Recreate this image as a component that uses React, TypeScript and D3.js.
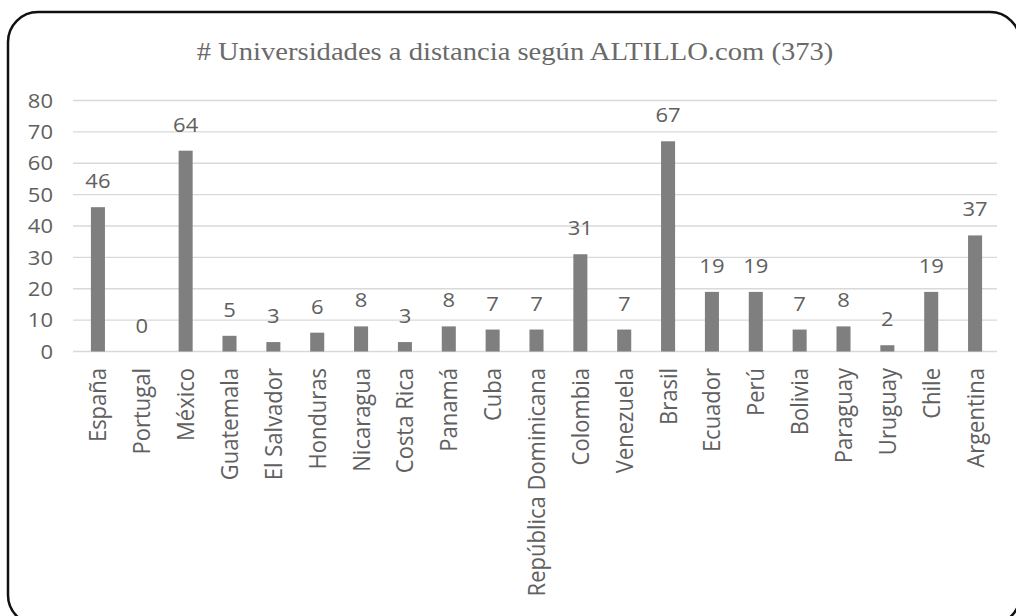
import React from "react";
import * as d3 from "d3";

const categories = ["España","Portugal","México","Guatemala","El Salvador","Honduras","Nicaragua","Costa Rica","Panamá","Cuba","República Dominicana","Colombia","Venezuela","Brasil","Ecuador","Perú","Bolivia","Paraguay","Uruguay","Chile","Argentina"];
const values = [46,0,64,5,3,6,8,3,8,7,7,31,7,67,19,19,7,8,2,19,37];
const yTicks = [0,10,20,30,40,50,60,70,80];
const title = "# Universidades a distancia según ALTILLO.com (373)";

export default function App() {
  const W = 1016, H = 616;
  const SX = 1.1;
  const x = d3.scaleBand<string>().domain(categories).range([76, 997]).paddingInner(0.68).paddingOuter(0.34);
  const y = d3.scaleLinear().domain([0, 80]).range([351.5, 100.5]);
  const font = "'Open Sans', sans-serif";
  const txt = "#606060";
  return (
    <svg width={W} height={H} style={{ position: "absolute", left: 0, top: 0, background: "#fff" }}>
      <rect x={8} y={12} width={1012} height={613} rx={30} ry={30} fill="#fff" stroke="#111" strokeWidth={2.5} />
      <text transform={`translate(515,60) scale(${SX},1)`} textAnchor="middle" fontFamily="'Liberation Serif', 'Times New Roman', serif" fontSize={26} fill="#6a6a6a">{title}</text>
      {yTicks.map(t => (
        <g key={t}>
          <line x1={73} x2={997} y1={y(t)} y2={y(t)} stroke="#d9d9d9" strokeWidth={1.3} />
          <text transform={`translate(53,${y(t)}) scale(${SX},1)`} dy="0.36em" textAnchor="end" fontFamily={font} fontSize={20} fill={txt}>{t}</text>
        </g>
      ))}
      {categories.map((c, i) => {
        const bx = x(c)!;
        const cx = bx + x.bandwidth() / 2;
        return (
          <g key={c}>
            <rect x={bx} y={y(values[i])} width={x.bandwidth()} height={y(0) - y(values[i])} fill="#7f7f7f" />
            <text transform={`translate(${cx},${y(values[i]) - 19}) scale(${SX},1)`} textAnchor="middle" fontFamily={font} fontSize={20} fill={txt}>{values[i]}</text>
            <text transform={`translate(${cx + 8.5},${368}) scale(${SX},1) rotate(-90)`} textAnchor="end" fontFamily={font} fontSize={22} fill={txt}>{c}</text>
          </g>
        );
      })}
    </svg>
  );
}
